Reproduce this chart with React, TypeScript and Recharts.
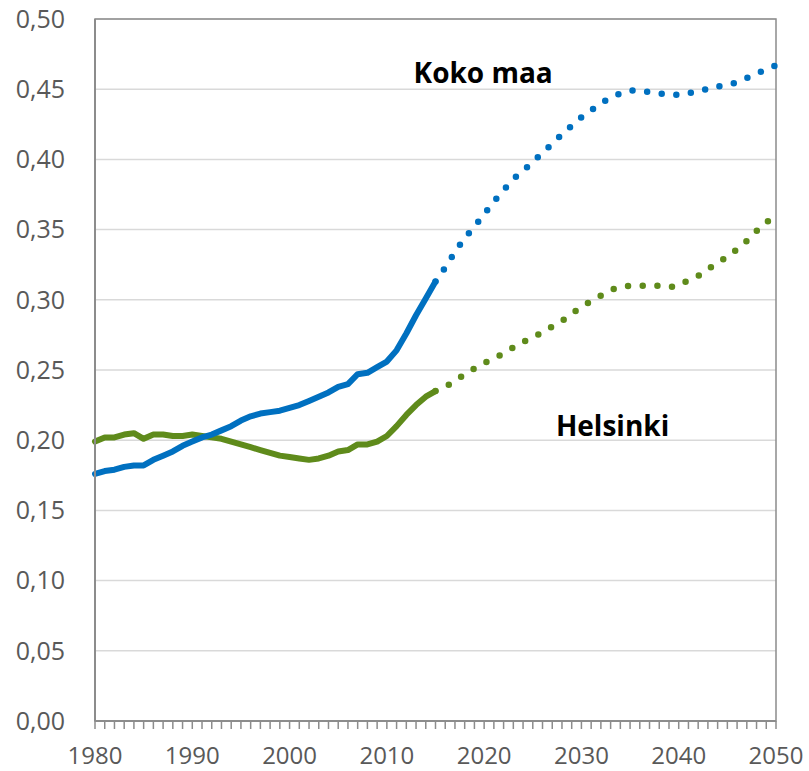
import React from "react";
import {
  LineChart,
  Line,
  XAxis,
  YAxis,
  CartesianGrid,
  ReferenceArea,
  ReferenceDot,
} from "recharts";

const years = Array.from({ length: 71 }, (_, i) => 1980 + i);
const labelYears = [1980, 1990, 2000, 2010, 2020, 2030, 2040, 2050];
const yTicks = [0, 0.05, 0.1, 0.15, 0.2, 0.25, 0.3, 0.35, 0.4, 0.45, 0.5];

// 1980–2015 toteutunut
const kokoMaaHist = [
  0.176, 0.178, 0.179, 0.181, 0.182, 0.182, 0.186, 0.189, 0.192, 0.196,
  0.199, 0.202, 0.204, 0.207, 0.21, 0.214, 0.217, 0.219, 0.22, 0.221,
  0.223, 0.225, 0.228, 0.231, 0.234, 0.238, 0.24, 0.247, 0.248, 0.252,
  0.256, 0.264, 0.276, 0.289, 0.301, 0.313,
];
// 2015–2050 ennuste
const kokoMaaEnn = [
  0.313, 0.323, 0.334, 0.344, 0.352, 0.361, 0.37, 0.378, 0.386, 0.392,
  0.398, 0.405, 0.411, 0.418, 0.424, 0.43, 0.435, 0.44, 0.444, 0.447,
  0.449, 0.449, 0.448, 0.447, 0.446, 0.446, 0.447, 0.449, 0.45, 0.452,
  0.453, 0.455, 0.458, 0.461, 0.464, 0.467,
];
const helsinkiHist = [
  0.199, 0.202, 0.202, 0.204, 0.205, 0.201, 0.204, 0.204, 0.203, 0.203,
  0.204, 0.203, 0.202, 0.201, 0.199, 0.197, 0.195, 0.193, 0.191, 0.189,
  0.188, 0.187, 0.186, 0.187, 0.189, 0.192, 0.193, 0.197, 0.197, 0.199,
  0.203, 0.21, 0.218, 0.225, 0.231, 0.235,
];
const helsinkiEnn = [
  0.235, 0.238, 0.242, 0.247, 0.251, 0.255, 0.258, 0.262, 0.266, 0.27,
  0.273, 0.277, 0.281, 0.285, 0.29, 0.295, 0.299, 0.303, 0.307, 0.309,
  0.31, 0.31, 0.31, 0.31, 0.309, 0.31, 0.314, 0.317, 0.322, 0.326,
  0.331, 0.336, 0.342, 0.349, 0.355, 0.361,
];

const data = years.map((year, i) => ({
  year,
  kokoHist: i < kokoMaaHist.length ? kokoMaaHist[i] : null,
  kokoEnn: i >= 35 ? kokoMaaEnn[i - 35] : null,
  helHist: i < helsinkiHist.length ? helsinkiHist[i] : null,
  helEnn: i >= 35 ? helsinkiEnn[i - 35] : null,
}));

const BLUE = "#0070c0";
const GREEN = "#5f8b1b";
const AXIS = "#8c8c8c";
const FONT = "'Open Sans', sans-serif";

const XTick = (props: any) => {
  const { x, y, payload } = props;
  const showLabel = labelYears.includes(payload.value);
  return (
    <g>
      <line x1={x} y1={y} x2={x} y2={y + 8} stroke={AXIS} strokeWidth={1.5} />
      {showLabel && (
        <text
          x={x}
          y={y + 43}
          textAnchor="middle"
          fill="#595959"
          fontSize={24}
          fontFamily={FONT}
        >
          {payload.value}
        </text>
      )}
    </g>
  );
};

const tag = (txt: string) => (props: any) => (
  <text
    x={props.cx}
    y={props.cy + 10}
    textAnchor="middle"
    fill="#000"
    fontSize={28}
    fontWeight={700}
    fontFamily={FONT}
  >
    {txt}
  </text>
);

export default function App() {
  return (
    <div style={{ position: "absolute", left: 0, top: 0, width: 809, height: 771, background: "#fff" }}>
      <LineChart
        width={809}
        height={771}
        data={data}
        margin={{ top: 19, right: 33, bottom: 0, left: 0 }}
      >
        <CartesianGrid vertical={false} stroke="#d9d9d9" strokeWidth={1.5} />
        <XAxis
          dataKey="year"
          type="number"
          domain={[1980, 2050]}
          ticks={years}
          interval={0}
          tick={<XTick />}
          tickLine={false}
          tickSize={0}
          tickMargin={0}
          height={50}
          stroke={AXIS}
          strokeWidth={2}
        />
        <YAxis
          type="number"
          domain={[0, 0.5]}
          ticks={yTicks}
          interval={0}
          width={95}
          tickLine={false}
          tickSize={0}
          tickMargin={30}
          stroke={AXIS}
          strokeWidth={2}
          tick={{ fill: "#595959", fontSize: 25, fontFamily: FONT }}
          tickFormatter={(v: number) => v.toFixed(2).replace(".", ",")}
        />
        <ReferenceArea
          x1={1980}
          x2={2050}
          y1={0}
          y2={0.5}
          fill="none"
          stroke={AXIS}
          strokeWidth={1.5}
          ifOverflow="visible"
        />
        <Line
          dataKey="helHist"
          stroke={GREEN}
          strokeWidth={6}
          strokeLinecap="round"
          strokeLinejoin="round"
          dot={false}
          activeDot={false}
          isAnimationActive={false}
        />
        <Line
          dataKey="helEnn"
          stroke={GREEN}
          strokeWidth={6.5}
          strokeDasharray="0 14.7"
          strokeLinecap="round"
          dot={false}
          activeDot={false}
          isAnimationActive={false}
        />
        <Line
          dataKey="kokoHist"
          stroke={BLUE}
          strokeWidth={6}
          strokeLinecap="round"
          strokeLinejoin="round"
          dot={false}
          activeDot={false}
          isAnimationActive={false}
        />
        <Line
          dataKey="kokoEnn"
          stroke={BLUE}
          strokeWidth={6.5}
          strokeDasharray="0 14.7"
          strokeLinecap="round"
          dot={false}
          activeDot={false}
          isAnimationActive={false}
        />
        <ReferenceDot x={2019.9} y={0.4615} r={1} shape={tag("Koko maa")} ifOverflow="visible" />
        <ReferenceDot x={2033.2} y={0.21} r={1} shape={tag("Helsinki")} ifOverflow="visible" />
      </LineChart>
    </div>
  );
}
